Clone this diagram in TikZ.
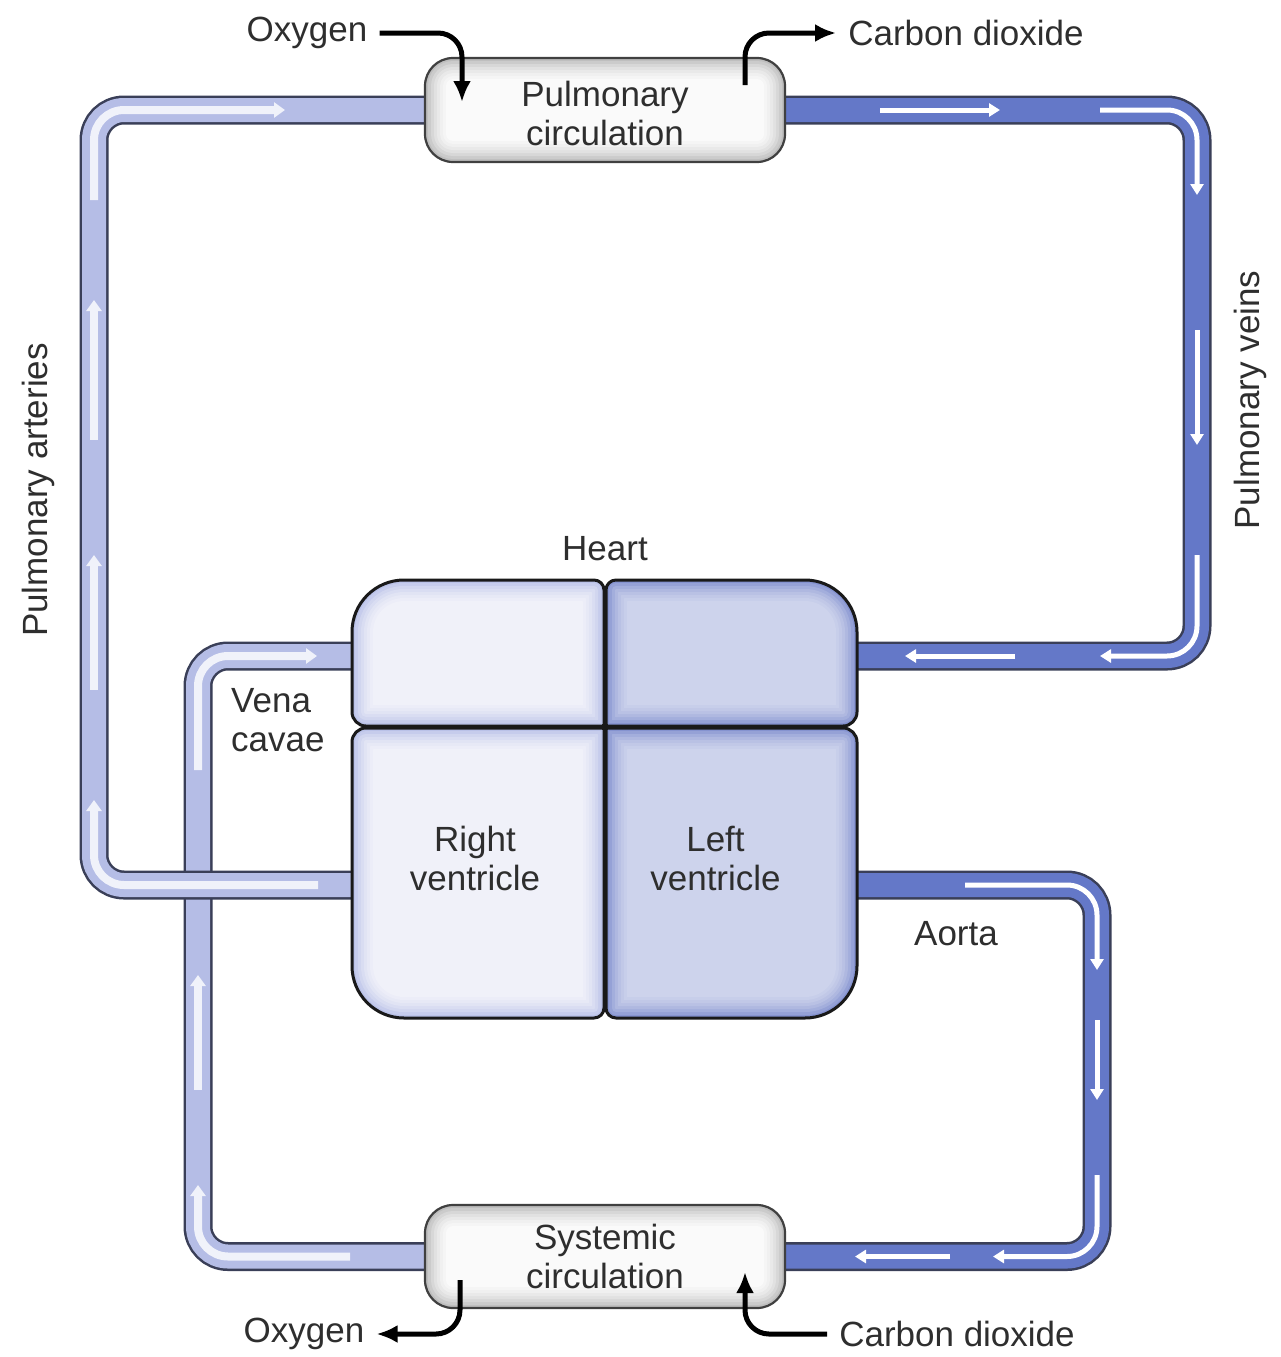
\documentclass[tikz,border=0pt]{standalone}
\usepackage{fontspec}
\setmainfont{Liberation Sans}
\usetikzlibrary{arrows.meta}
\definecolor{tubeedge}{HTML}{3A3F58}
\definecolor{lightfill}{HTML}{B5BDE6}
\definecolor{darkfill}{HTML}{6478C8}
\definecolor{raedge}{HTML}{BAC2E8}
\definecolor{ramid}{HTML}{F0F1F9}
\definecolor{laedge}{HTML}{8593D0}
\definecolor{lamid}{HTML}{CDD3EC}
\definecolor{boxedge}{HTML}{BEBEBE}
\definecolor{boxmid}{HTML}{FAFAFA}
\definecolor{txt}{HTML}{2E2E2E}
% rounded rectangle with individual corner radii: x1 y1 x2 y2 rTL rTR rBR rBL (y grows downward)
\newcommand\rpath[8]{(#1,#2+#5) arc[start angle=180,end angle=270,radius=#5] -- (#3-#6,#2) arc[start angle=270,end angle=360,radius=#6] -- (#3,#4-#7) arc[start angle=0,end angle=90,radius=#7] -- (#1+#8,#4) arc[start angle=90,end angle=180,radius=#8] -- cycle}
\newcommand\softshape[9]{%
  \foreach \insetv/\pctv in {0/0,3/22,6/42,9/58,12/72,15/83,18/92,21/100}{%
    \pgfmathsetmacro\chA{max(#5-\insetv,0.5)}%
    \pgfmathsetmacro\chB{max(#6-\insetv,0.5)}%
    \pgfmathsetmacro\chC{max(#7-\insetv,0.5)}%
    \pgfmathsetmacro\chD{max(#8-\insetv,0.5)}%
    \fill[#9mid!\pctv!#9edge] \rpath{#1+\insetv}{#2+\insetv}{#3-\insetv}{#4-\insetv}{\chA}{\chB}{\chC}{\chD};
  }%
}
\begin{document}
\begin{tikzpicture}[x=1pt,y=-1pt,
  lbl/.style={font=\fontsize{35}{39}\selectfont, text=txt, inner sep=0pt, align=center},
  geom/.style={inner sep=0pt, outer sep=0pt, draw=none},
  lighttube/.style={line width=24pt, draw=lightfill, rounded corners=30pt, preaction={draw=tubeedge, line width=29pt}},
  darktube/.style={line width=24pt, draw=darkfill, rounded corners=30pt, preaction={draw=tubeedge, line width=29pt}},
  lightflow/.style={draw=white!80!lightfill, line width=8pt, rounded corners=30pt, -{Triangle[width=15pt,length=11pt]}},
  darkflow/.style={draw=white, line width=5pt, rounded corners=30pt, -{Triangle[width=13pt,length=11pt]}},
  chamberline/.style={line width=3pt, draw=black!90},
  boxline/.style={line width=2.2pt, draw=black!75, rounded corners=28pt},
  blk/.style={line width=5pt, draw=black, rounded corners=24pt, -{Latex[length=21pt,width=18pt]}}]
\useasboundingbox (0,0) rectangle (1281,1357);
\fill[white] (0,0) rectangle (1281,1357);

% geometry nodes
\node[geom, minimum width=360pt, minimum height=104pt] (pulm) at (605,110) {};
\node[geom, minimum width=360pt, minimum height=103pt] (syst) at (605,1256.5) {};
\node[geom, minimum width=252pt, minimum height=146pt] (RA) at (478,653) {};
\node[geom, minimum width=251pt, minimum height=146pt] (LA) at (731.5,653) {};
\node[geom, minimum width=252pt, minimum height=290pt] (RV) at (478,873) {};
\node[geom, minimum width=251pt, minimum height=290pt] (LV) at (731.5,873) {};

% vena cavae
\coordinate (vcB) at (198,1256.5);
\coordinate (vcT) at (198,656);
\draw[lighttube] (syst.west) -- (vcB) -- (vcT) -- (RA.west |- vcT);
\draw[lightflow] (350,1256.5) -- (vcB) -- (198,1185);
\draw[lightflow] (198,1090) -- (198,975);
\draw[lightflow] (198,770) -- (vcT) -- (317,656);

% pulmonary arteries
\coordinate (paB) at (94,885);
\coordinate (paT) at (94,110);
\draw[lighttube] (RV.west |- paB) -- (paB) -- (paT) -- (pulm.west);
\draw[lightflow] (318,885) -- (paB) -- (94,800);
\draw[lightflow] (94,690) -- (94,555);
\draw[lightflow] (94,440) -- (94,300);
\draw[lightflow] (94,200) -- (paT) -- (285,110);

% pulmonary veins
\coordinate (pvT) at (1197,110);
\coordinate (pvB) at (1197,656);
\draw[darktube] (pulm.east) -- (pvT) -- (pvB) -- (LA.east |- pvB);
\draw[darkflow] (880,110) -- (1000,110);
\draw[darkflow] (1100,110) -- (pvT) -- (1197,195);
\draw[darkflow] (1197,330) -- (1197,445);
\draw[darkflow] (1197,555) -- (pvB) -- (1100,656);
\draw[darkflow] (1015,656) -- (905,656);

% aorta
\coordinate (aoT) at (1097,885);
\coordinate (aoB) at (1097,1256.5);
\draw[darktube] (LV.east |- aoT) -- (aoT) -- (aoB) -- (syst.east);
\draw[darkflow] (965,885) -- (aoT) -- (1097,970);
\draw[darkflow] (1097,1020) -- (1097,1100);
\draw[darkflow] (1097,1175) -- (aoB) -- (993,1256.5);
\draw[darkflow] (950,1256.5) -- (855,1256.5);

% circulation boxes
\softshape{425}{58}{785}{162}{28}{28}{28}{28}{box}
\softshape{425}{1205}{785}{1308}{28}{28}{28}{28}{box}
\draw[boxline] (pulm.north west) rectangle (pulm.south east);
\draw[boxline] (syst.north west) rectangle (syst.south east);

% heart chambers
\softshape{352}{580}{604}{726}{52}{10}{1}{14}{ra}
\softshape{606}{580}{857}{726}{10}{52}{14}{1}{la}
\softshape{352}{728}{604}{1018}{14}{1}{10}{52}{ra}
\softshape{606}{728}{857}{1018}{1}{14}{52}{10}{la}
\fill[black!90] (602,724) rectangle (608,730);
\draw[chamberline] \rpath{352}{580}{604}{726}{52}{10}{1}{14};
\draw[chamberline] \rpath{606}{580}{857}{726}{10}{52}{14}{1};
\draw[chamberline] \rpath{352}{728}{604}{1018}{14}{1}{10}{52};
\draw[chamberline] \rpath{606}{728}{857}{1018}{1}{14}{52}{10};

% texts
\node[lbl] (pulmtxt) at ([yshift=-3pt]pulm.center) {Pulmonary\\circulation};
\node[lbl] (systtxt) at (syst.center) {Systemic\\circulation};
\node[lbl] (rvtxt) at ([xshift=-3pt,yshift=15pt]RV.center) {Right\\ventricle};
\node[lbl] (lvtxt) at ([xshift=-16pt,yshift=15pt]LV.center) {Left\\ventricle};
\node[lbl] (heart) at (605,549) {Heart};
\node[lbl, align=left, anchor=west] (vena) at (231,720) {Vena\\cavae};
\node[lbl] (aorta) at (956,934) {Aorta};
\node[lbl] (oxy1) at (307,33) {Oxygen};
\node[lbl] (co2a) at (966,33) {Carbon dioxide};
\node[lbl] (oxy2) at (304,1334) {Oxygen};
\node[lbl] (co2b) at (957,1334) {Carbon dioxide};
\node[lbl, rotate=90] (palab) at (38,490) {Pulmonary arteries};
\node[lbl, rotate=90] (pvlab) at (1250,400) {Pulmonary veins};

% gas exchange arrows
\draw[blk] ([xshift=12pt]oxy1.east) -| ([xshift=37pt,yshift=-44pt]pulm.north west);
\draw[blk] ([xshift=-40pt,yshift=-27pt]pulm.north east) |- ([xshift=-12pt]co2a.west);
\draw[blk] ([xshift=35pt,yshift=28pt]syst.south west) |- ([xshift=12pt]oxy2.east);
\draw[blk] ([xshift=-12pt]co2b.west) -| ([xshift=-40pt,yshift=36pt]syst.south east);
\end{tikzpicture}
\end{document}
